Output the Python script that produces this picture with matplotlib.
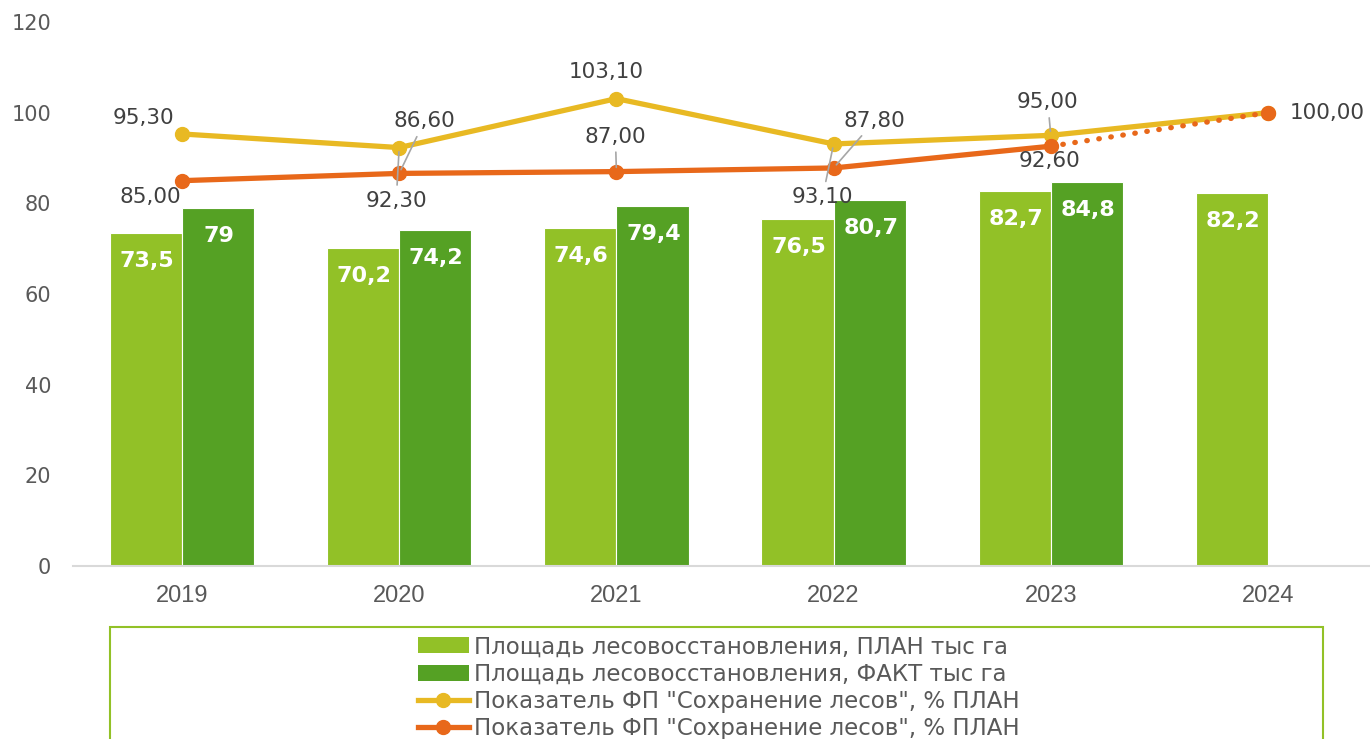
import matplotlib
matplotlib.use("Agg")
import matplotlib.pyplot as plt
from matplotlib.patches import Rectangle
from matplotlib.lines import Line2D
from matplotlib.patches import Patch
import numpy as np

years = ['2019', '2020', '2021', '2022', '2023', '2024']
plan_area = [73.5, 70.2, 74.6, 76.5, 82.7, 82.2]
fact_area = [79.0, 74.2, 79.4, 80.7, 84.8]
plan_pct = [95.3, 92.3, 103.1, 93.1, 95.0, 100.0]
fact_pct = [85.0, 86.6, 87.0, 87.8, 92.6]
fact_pct_target = 100.0
yticks = [0, 20, 40, 60, 80, 100, 120]

labels = [
    'Площадь лесовосстановления, ПЛАН тыс га',
    'Площадь лесовосстановления, ФАКТ тыс га',
    'Показатель ФП "Сохранение лесов", % ПЛАН',
    'Показатель ФП "Сохранение лесов", % ПЛАН',
]

C_PLAN = '#92C127'
C_FACT = '#55A124'
C_YEL = '#E8B923'
C_ORA = '#E8681A'
C_TXT = '#404040'
C_AX = '#595959'
C_LEAD = '#A6A6A6'
WIDE = 'DejaVu Sans'

W, H = 1370, 739
fig = plt.figure(figsize=(W / 100, H / 100), dpi=100)
ax = fig.add_axes([73.4 / W, 173 / H, 1303.2 / W, 544 / H])

x = np.arange(len(years))
bw = 0.332
xf = x[:len(fact_area)]

b1 = ax.bar(x - bw / 2, plan_area, bw, color=C_PLAN, edgecolor='white', linewidth=0.8, zorder=2)
b2 = ax.bar(xf + bw / 2, fact_area, bw, color=C_FACT, edgecolor='white', linewidth=0.8, zorder=2)

def fmt_bar(v):
    return f"{v:g}".replace('.', ',')

for rects, vals in ((b1, plan_area), (b2, fact_area)):
    for r, v in zip(rects, vals):
        ax.annotate(fmt_bar(v), (r.get_x() + r.get_width() / 2, v),
                    xytext=(1, -28), textcoords='offset pixels',
                    ha='center', va='center', color='white',
                    fontsize=16, fontweight='bold', family=WIDE, zorder=5)

# lines
ax.plot(x, plan_pct, color=C_YEL, lw=3.8, marker='o', ms=10, zorder=3,
        solid_capstyle='round')
ax.plot(xf, fact_pct, color=C_ORA, lw=3.8, marker='o', ms=10, zorder=4,
        solid_capstyle='round')
ax.plot([xf[-1], x[-1]], [fact_pct[-1], fact_pct_target], color=C_ORA, lw=3.8,
        linestyle=(0, (0.1, 2.2)), dash_capstyle='round', zorder=4)
ax.plot([x[-1]], [fact_pct_target], color=C_ORA, marker='o', ms=10, lw=0, zorder=4)

def fmt_pct(v):
    return f"{v:.2f}".replace('.', ',')

# label offsets (pixels) and whether a leader line is drawn
yel_off = [(-39, 16, False), (-3, -53, True), (-10, 27, False),
           (-11, -53, True), (-3, 33, True), None]
ora_off = [(-32, -16, False), (25, 52, True), (-1, 35, True),
           (41, 47, True), (-1, -15, False)]

def put(xi, v, off):
    dx, dy, lead = off
    kw = dict(xytext=(dx, dy), textcoords='offset pixels', ha='center', va='center',
              color=C_TXT, fontsize=15.5, family=WIDE, zorder=6)
    if lead:
        kw['arrowprops'] = dict(arrowstyle='-', color=C_LEAD, lw=1.2,
                                shrinkA=2, shrinkB=3)
    ax.annotate(fmt_pct(v), (xi, v), **kw)

for xi, v, off in zip(x, plan_pct, yel_off):
    if off:
        put(xi, v, off)
for xi, v, off in zip(xf, fact_pct, ora_off):
    put(xi, v, off)
ax.annotate(fmt_pct(fact_pct_target), (x[-1], fact_pct_target), xytext=(22, 0),
            textcoords='offset pixels', ha='left', va='center', color=C_TXT,
            fontsize=15.5, family=WIDE, zorder=6)

ax.set_xlim(-0.5, len(years) - 0.5)
ax.set_ylim(0, 120)
ax.set_yticks(yticks)
ax.set_xticks(x)
ax.set_xticklabels(years)
for s in ('top', 'right', 'left'):
    ax.spines[s].set_visible(False)
ax.spines['bottom'].set_color('#D9D9D9')
ax.spines['bottom'].set_linewidth(1.5)
ax.tick_params(axis='both', length=0, labelcolor=C_AX)
ax.tick_params(axis='y', pad=16, labelsize=15)
ax.tick_params(axis='x', pad=14, labelsize=17)
for t in ax.get_xticklabels():
    t.set_family('Liberation Sans')
for t in ax.get_yticklabels():
    t.set_family(WIDE)

# legend
handles = [
    Patch(facecolor=C_PLAN, edgecolor='none'),
    Patch(facecolor=C_FACT, edgecolor='none'),
    Line2D([], [], color=C_YEL, lw=3.8, marker='o', ms=10),
    Line2D([], [], color=C_ORA, lw=3.8, marker='o', ms=10),
]
leg = fig.legend(handles, labels, loc='upper center',
                 bbox_to_anchor=(719 / W, 1 - 624 / H), frameon=False,
                 prop={'family': WIDE, 'size': 16.5},
                 labelcolor=C_AX, handlelength=2.2, handletextpad=0.25,
                 labelspacing=0.18, borderpad=0)
fig.patches.append(Rectangle((110 / W, -0.1), (1323 - 110) / W, 0.1 + (1 - 627 / H),
                             transform=fig.transFigure, fill=False,
                             edgecolor=C_PLAN, lw=1.5))

fig.savefig('out.png', dpi=100)
